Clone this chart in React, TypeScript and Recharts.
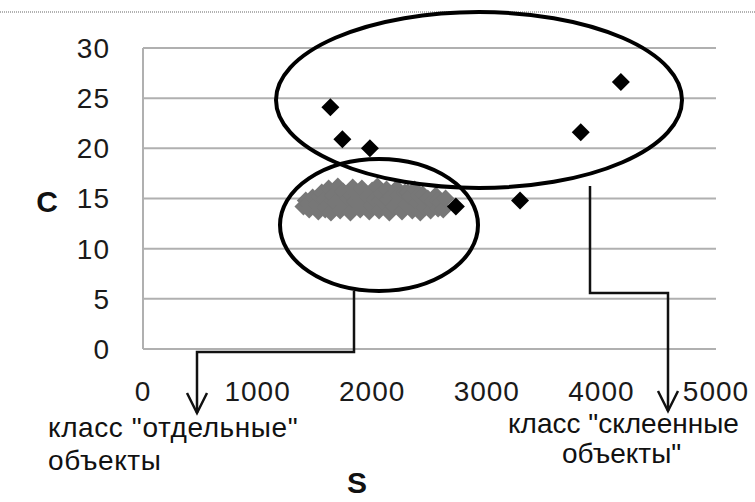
import React from 'react';
import { ScatterChart, Scatter, XAxis, YAxis, CartesianGrid } from 'recharts';

// "отдельные" objects (grey cluster): [S, C]
const separateS = [
  1400, 1420, 1440, 1450, 1480, 1510, 1530, 1540, 1560, 1580, 1590, 1600, 1620, 1640, 1650, 1660,
  1680, 1700, 1720, 1735, 1745, 1760, 1790, 1810, 1820, 1830, 1850, 1870, 1895, 1905, 1910, 1930,
  1955, 1975, 1990, 2000, 2020, 2045, 2060, 2070, 2085, 2100, 2125, 2140, 2150, 2170, 2190, 2215,
  2230, 2240, 2260, 2285, 2300, 2310, 2330, 2350, 2370, 2395, 2400, 2420, 2440, 2460, 2480, 2485,
  2510, 2530, 2555, 2570, 2575, 2600, 2620, 2640,
];
const separateC = [
  14.2, 14.8, 14.5, 13.9, 15.1, 14.4, 13.7, 15.2, 15.6, 14.9, 13.9, 14.1, 16.0, 13.6, 14.8, 15.3,
  14.6, 16.2, 13.8, 14.9, 15.7, 14.3, 15.0, 13.6, 15.3, 16.1, 14.7, 15.4, 13.9, 14.9, 16.0, 14.4,
  15.2, 13.7, 14.3, 15.8, 14.9, 16.2, 13.8, 14.8, 15.5, 14.5, 15.9, 14.9, 13.6, 15.1, 14.2, 16.0,
  15.3, 14.8, 13.7, 15.6, 14.4, 15.6, 15.2, 13.8, 15.9, 14.6, 15.3, 13.6, 15.4, 14.1, 14.4, 15.0,
  13.8, 14.7, 15.3, 14.8, 14.0, 14.6, 13.9, 15.0,
];

// "склеенные" objects (black diamonds)
const gluedS = [1635, 1740, 1980, 2730, 3290, 3820, 4170];
const gluedC = [24.1, 20.9, 20.0, 14.2, 14.8, 21.6, 26.6];

const xTicks = [0, 1000, 2000, 3000, 4000, 5000];
const yTicks = [0, 5, 10, 15, 20, 25, 30];

const separate = separateS.map((s, i) => ({ s, c: separateC[i] }));
const glued = gluedS.map((s, i) => ({ s, c: gluedC[i] }));

const font = "'Liberation Sans', Arial, sans-serif";

const Diamond = (props: any) => {
  const { cx, cy, fill } = props;
  const r = 9;
  return (
    <polygon
      points={`${cx},${cy - r} ${cx + r},${cy} ${cx},${cy + r} ${cx - r},${cy}`}
      fill={fill}
    />
  );
};

const tickStyle = { fontSize: 28, fill: '#1a1a1a', fontFamily: font, letterSpacing: 1 };
const labelStyle: any = { fontSize: 28, fill: '#111', fontFamily: font };

function Arrow({ x, y }: { x: number; y: number }) {
  return <polyline points={`${x - 10},${y - 20} ${x},${y} ${x + 10},${y - 20}`} fill="none" stroke="#111" strokeWidth={2.5} />;
}

export default function App() {
  return (
    <div style={{ position: 'absolute', left: 0, top: 0, width: 755, height: 502, background: '#fff' }}>
      <ScatterChart width={755} height={502} margin={{ top: 48, right: 39, left: 0, bottom: 0 }}>
        <CartesianGrid vertical={false} stroke="#b0b0b0" strokeWidth={2} />
        <XAxis
          type="number"
          dataKey="s"
          domain={[0, 5000]}
          ticks={xTicks}
          height={153}
          axisLine={false}
          tickLine={false}
          tickMargin={26}
          tick={tickStyle}
        />
        <YAxis
          type="number"
          dataKey="c"
          domain={[0, 30]}
          ticks={yTicks}
          width={143}
          axisLine={{ stroke: '#b0b0b0', strokeWidth: 2 }}
          tickLine={false}
          tickMargin={27}
          tick={tickStyle}
        />
        <Scatter data={separate} fill="#777777" shape={Diamond} isAnimationActive={false} />
        <Scatter data={glued} fill="#000000" shape={Diamond} isAnimationActive={false} />
      </ScatterChart>
      <svg width={755} height={502} style={{ position: 'absolute', left: 0, top: 0, pointerEvents: 'none' }}>
        <line x1={0} y1={12} x2={755} y2={12} stroke="#999" strokeWidth={1.5} strokeDasharray="1 1" />
        <ellipse cx={479} cy={100} rx={203} ry={88} fill="none" stroke="#000" strokeWidth={4} />
        <ellipse cx={379} cy={225} rx={99} ry={66} fill="none" stroke="#000" strokeWidth={4} />
        <polyline points="354,291 354,352 197,352 197,413" fill="none" stroke="#111" strokeWidth={2.5} />
        <Arrow x={197} y={413} />
        <polyline points="590,186 590,293 668,293 668,411" fill="none" stroke="#111" strokeWidth={2.5} />
        <Arrow x={668} y={411} />
        <text x={47} y={212} textAnchor="middle" style={{ fontSize: 30, fontWeight: 'bold', fontFamily: font, fill: '#111' }}>C</text>
        <text x={357} y={493} textAnchor="middle" style={{ fontSize: 30, fontWeight: 'bold', fontFamily: font, fill: '#111' }}>S</text>
        <text x={48} y={437} style={{ ...labelStyle, letterSpacing: 0.6 }}>класс "отдельные"</text>
        <text x={48} y={470} style={{ ...labelStyle, letterSpacing: 0.6 }}>объекты</text>
        <text x={508} y={433} style={labelStyle}>класс "склеенные</text>
        <text x={562} y={463} style={labelStyle}>объекты"</text>
      </svg>
    </div>
  );
}
